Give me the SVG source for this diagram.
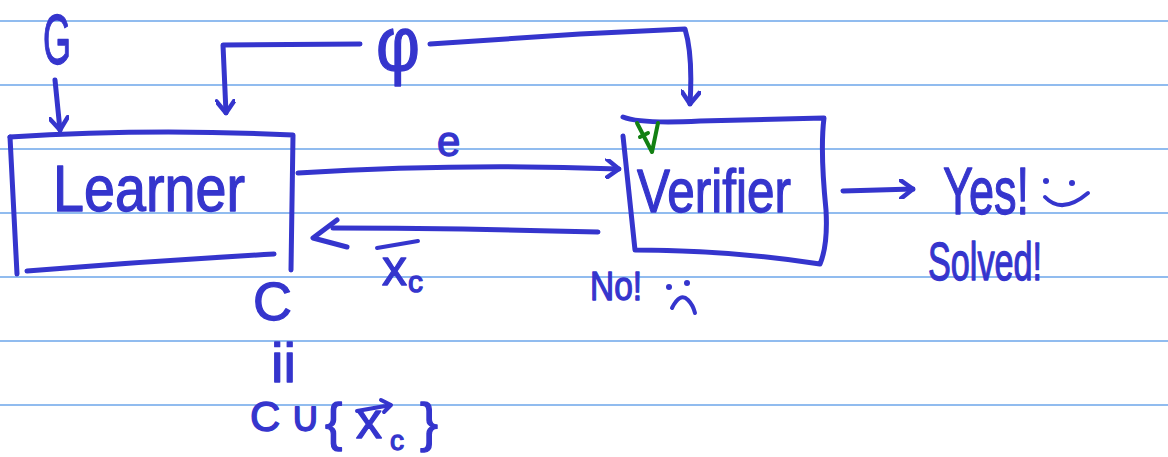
<svg xmlns="http://www.w3.org/2000/svg" width="1168" height="457" viewBox="0 0 1168 457">
<defs>
<style>
.rule{stroke:#6ea6ea;stroke-width:1.6;fill:none}
.ink{stroke:#3535cd;stroke-width:5;fill:none;stroke-linecap:round;stroke-linejoin:round}
.thin{stroke:#3535cd;stroke-width:4;fill:none;stroke-linecap:round;stroke-linejoin:round}
.green{stroke:#138013;stroke-width:4;fill:none;stroke-linecap:round;stroke-linejoin:round}
.t{font-family:"Liberation Sans",Arial,sans-serif;fill:#3535cd;stroke:#3535cd;stroke-width:1.3;stroke-linejoin:round}
.dot{fill:#3535cd}
</style>
<marker id="ah" viewBox="-14 -10 16 20" refX="0" refY="0" markerWidth="16" markerHeight="20" markerUnits="userSpaceOnUse" orient="auto">
<path d="M -12 -9 L 0 0 L -12 9" stroke="#3535cd" stroke-width="4.5" fill="none" stroke-linecap="round" stroke-linejoin="round"/>
</marker>
</defs>
<rect width="1168" height="457" fill="#ffffff"/>
<g id="paper">
<path class="rule" d="M0 21H1168M0 85H1168M0 149H1168M0 213H1168M0 277H1168M0 341H1168M0 405H1168"/>
</g>
<g id="connectors">
<path class="ink" d="M 55 80 L 60 130" marker-end="url(#ah)"/>
<path class="ink" d="M 360 44 L 223 45 L 226 113" marker-end="url(#ah)"/>
<path class="ink" d="M 430 44 L 580 34 L 685 29 Q 693 55 690 104" marker-end="url(#ah)"/>
<path class="ink" d="M 298 173 Q 460 163 619 169" marker-end="url(#ah)"/>
<path class="ink" d="M 598 232 Q 450 228 333 228"/>
<path class="ink" d="M 337 220 L 313 238 L 347 247"/>
<path class="ink" d="M 843 191 L 913 189" marker-end="url(#ah)"/>
</g>
<g id="input-G">
<text class="t" x="43" y="64" font-size="70" textLength="28" lengthAdjust="spacingAndGlyphs">G</text>
</g>
<g id="label-phi">
<text class="t" x="376" y="70" font-size="76" textLength="44" lengthAdjust="spacingAndGlyphs">φ</text>
</g>
<g id="label-e">
<text class="t" x="437" y="156" font-size="42">e</text>
</g>
<g id="learner">
<path class="ink" d="M 10 137 Q 150 128 293 135 L 291 270"/>
<path class="ink" d="M 10 137 L 17 274"/>
<path class="ink" d="M 27 271 Q 150 261 274 254"/>
<text class="t" x="53" y="211" font-size="64" textLength="192" lengthAdjust="spacingAndGlyphs">Learner</text>
</g>
<g id="verifier">
<path class="ink" d="M 623 117 Q 640 124 700 121 L 824 118 Q 820 150 826 210 Q 828 245 820 264 Q 730 250 635 250 L 623 136"/>
<path class="green" d="M 637 123 L 652 152 L 658 123 M 640 137 L 648 133"/>
<text class="t" x="637" y="212" font-size="62" textLength="154" lengthAdjust="spacingAndGlyphs">Verifier</text>
</g>
<g id="label-xc">
<path class="thin" d="M 377 248 L 418 241"/>
<text class="t" x="382" y="285" font-size="50">x</text>
<text class="t" x="408" y="292" font-size="30">c</text>
</g>
<g id="yes">
<text class="t" x="943" y="214" font-size="66" textLength="86" lengthAdjust="spacingAndGlyphs">Yes!</text>
<circle class="dot" cx="1046" cy="181" r="3"/>
<circle class="dot" cx="1072" cy="183" r="3"/>
<path class="thin" d="M 1045 197 Q 1062 215 1088 193"/>
<text class="t" x="928" y="280" font-size="54" textLength="114" lengthAdjust="spacingAndGlyphs">Solved!</text>
</g>
<g id="no">
<text class="t" x="590" y="300" font-size="40" textLength="52" lengthAdjust="spacingAndGlyphs">No!</text>
<circle class="dot" cx="669" cy="287" r="3"/>
<circle class="dot" cx="687" cy="283" r="3"/>
<path class="thin" d="M 672 308 Q 680 292 688 300 Q 693 305 695 313"/>
</g>
<g id="update">
<text class="t" x="253" y="320" font-size="54">C</text>
<text class="t" x="271" y="382" font-size="56">ii</text>
<text class="t" x="250" y="431" font-size="42">C</text>
<text class="t" x="290" y="431" font-size="42">∪</text>
<text class="t" x="325" y="440" font-size="52">{</text>
<path class="thin" d="M 357 411 L 391 405 M 381 400 L 391 405 L 384 412"/>
<text class="t" x="356" y="438" font-size="52">x</text>
<text class="t" x="390" y="450" font-size="28">c</text>
<text class="t" x="420" y="441" font-size="54">}</text>
</g>
</svg>
